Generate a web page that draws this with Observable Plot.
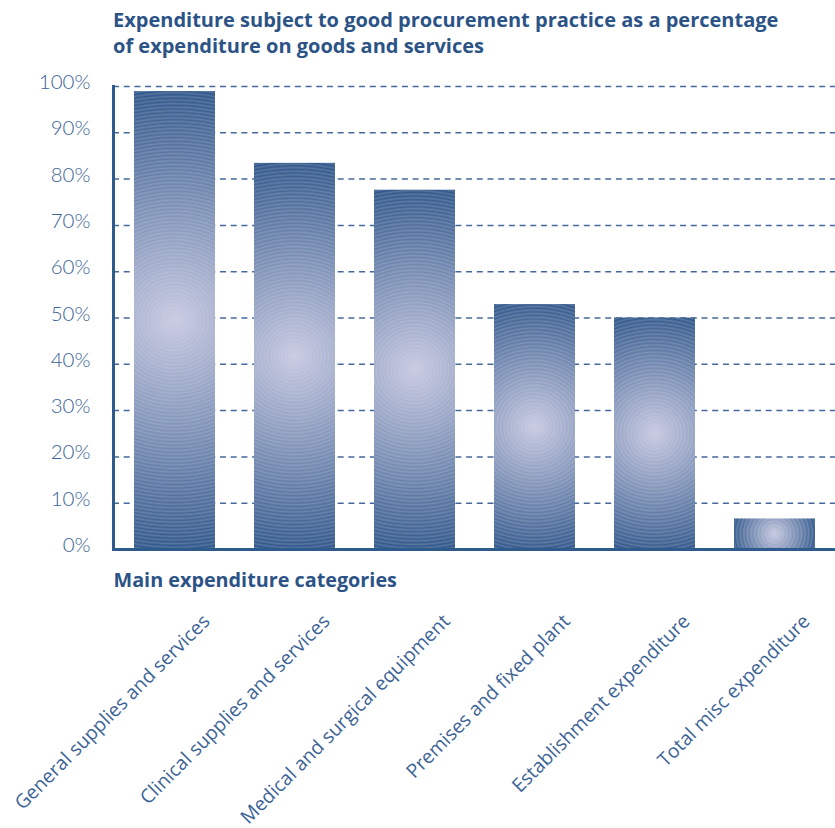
<!DOCTYPE html>
<html><head><meta charset="utf-8">
<script src="https://cdn.jsdelivr.net/npm/d3@7"></script>
<script src="https://cdn.jsdelivr.net/npm/@observablehq/plot@0.6"></script>
<style>
body{margin:0;background:#fff;}
#title{height:60px;box-sizing:border-box;padding:7px 0 0 113px;font:bold 20px/26px "Open Sans", sans-serif;color:#2c5386;white-space:nowrap;}
#chart svg{display:block;}
</style></head><body>
<div id="title">Expenditure subject to good procurement practice as a percentage<br>of expenditure on goods and services</div>
<div id="chart"></div>
<script>
const categories = [
  "General supplies and services",
  "Clinical supplies and services",
  "Medical and surgical equipment",
  "Premises and fixed plant",
  "Establishment expenditure",
  "Total misc expenditure"
];
const values = [98.9, 83.4, 77.6, 52.9, 50.0, 6.6];
const yTicks = [0, 10, 20, 30, 40, 50, 60, 70, 80, 90, 100];
const xTitle = "Main expenditure categories";

const data = categories.map((c, i) => ({category: c, value: values[i], i}));

const dark = "#2f5a8c";
const textBlue = "#3d6496";
const boldBlue = "#2c5386";

const chart = Plot.plot({
  width: 835,
  height: 768,
  marginTop: 26,
  marginBottom: 279,
  marginLeft: 113,
  marginRight: 0,
  style: {fontFamily: "'Open Sans', sans-serif", background: "#fff"},
  x: {domain: categories, paddingInner: 0.326, paddingOuter: 0.155, axis: null},
  y: {domain: [0, 100], axis: null},
  color: {type: "identity"},
  marks: [
    Plot.gridY(yTicks, {stroke: "#46689a", strokeOpacity: 1, strokeWidth: 1.5, strokeDasharray: "6,4.7"}),
    Plot.barY(data, {x: "category", y: "value", fill: d => `url(#bargrad-${d.i})`}),
    Plot.ruleY([0], {stroke: dark, strokeWidth: 3}),
    Plot.frame({anchor: "left", stroke: dark, strokeWidth: 3}),
    Plot.axisY(yTicks, {tickSize: 0, tickPadding: 23, tickFormat: d => d + "%", fontSize: 20.5, fontWeight: 300, fontFamily: "Lato, sans-serif", fill: textBlue, dy: -4, label: null}),
    Plot.text(categories, {x: d => d, frameAnchor: "bottom", rotate: -45, textAnchor: "end", lineAnchor: "bottom", dx: 36, dy: 73, fontSize: 19.3, fill: textBlue}),
    Plot.text([xTitle], {frameAnchor: "bottom-left", textAnchor: "start", lineAnchor: "bottom", dy: 37, fontSize: 19.8, fontWeight: "bold", fill: boldBlue})
  ]
});
document.getElementById("chart").appendChild(chart);

// radial gradients for the bars (one per bar, centred on the bar)
const xs = chart.scale("x"), ys = chart.scale("y");
const defs = d3.select(chart).insert("defs", ":first-child");
const centerC = "#c9cae1", edgeC = "#2d5588";
const base = d3.interpolateRgb(centerC, edgeC);
data.forEach(d => {
  const x0 = xs.apply(d.category), bw = xs.bandwidth;
  const yb = ys.apply(0), yt = ys.apply(d.value);
  const cx = x0 + bw / 2, cy = (yb + yt) / 2;
  const r = Math.hypot(bw / 2, (yb - yt) / 2);
  const g = defs.append("radialGradient")
    .attr("id", `bargrad-${d.i}`)
    .attr("gradientUnits", "userSpaceOnUse")
    .attr("cx", cx).attr("cy", cy).attr("r", r);
  const n = Math.max(4, Math.round(r / 3.6));
  for (let k = 0; k <= n; k++) {
    const t = k / n;
    g.append("stop").attr("offset", t).attr("stop-color", base(t));
    if (k < n) {
      const t2 = (k + 0.5) / n;
      g.append("stop").attr("offset", t2).attr("stop-color", d3.interpolateRgb(base(t2), "#d6d9ec")(0.22));
    }
  }
});
</script>
</body></html>
